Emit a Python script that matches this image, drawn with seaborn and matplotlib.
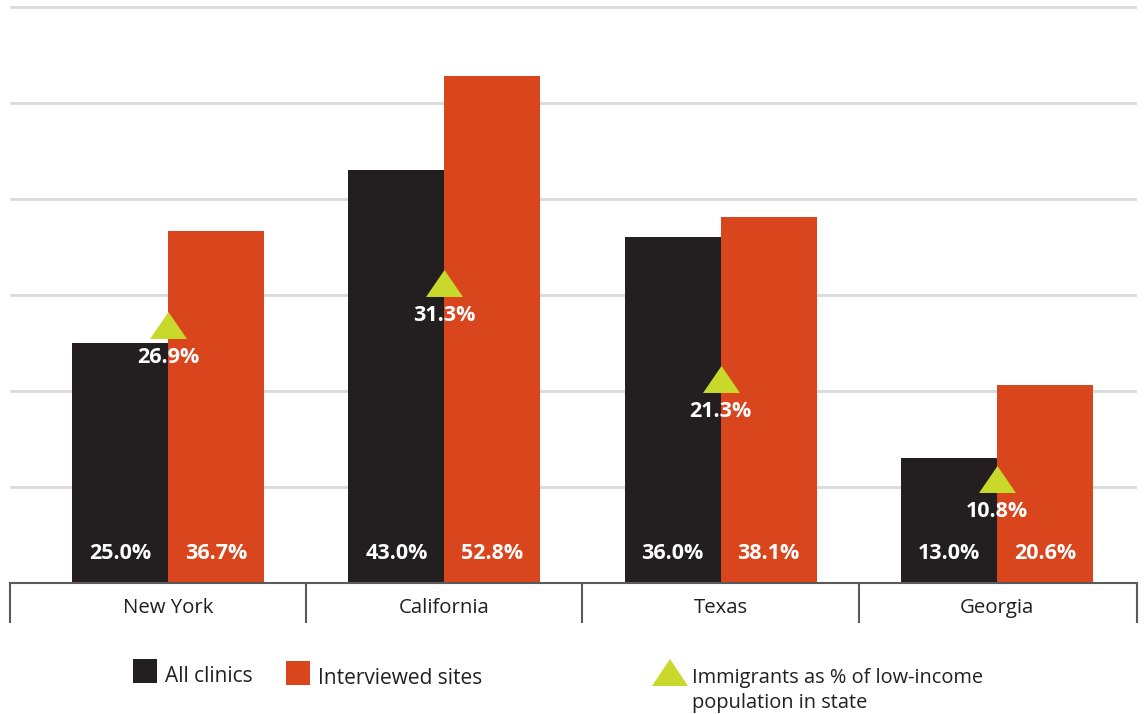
import matplotlib
matplotlib.use("Agg")
import matplotlib.pyplot as plt
import seaborn as sns
import pandas as pd
from matplotlib.transforms import blended_transform_factory
from matplotlib.patches import Rectangle, Polygon

# ---- data ----
states = ["New York", "California", "Texas", "Georgia"]
all_clinics = [25.0, 43.0, 36.0, 13.0]
interviewed = [36.7, 52.8, 38.1, 20.6]
immigrants = [26.9, 31.3, 21.3, 10.8]
series_names = ["All clinics", "Interviewed sites"]
marker_label = "Immigrants as % of low-income\npopulation in state"

DARK = "#231f20"
ORANGE = "#d9461d"
LIME = "#c9d92b"
GRID = "#d9d9d9"
AXIS = "#5a5a5a"

sns.set_theme(style="white")
plt.rcParams['font.family'] = ['Open Sans', 'DejaVu Sans']

df = pd.DataFrame({
    "State": states * 2,
    "Group": [series_names[0]] * len(states) + [series_names[1]] * len(states),
    "Value": all_clinics + interviewed,
})

W, H = 1145, 714
fig = plt.figure(figsize=(W / 100, H / 100), dpi=100)
ax = fig.add_axes([10 / W, 131 / H, 1127 / W, 583 / H])

sns.barplot(data=df, x="State", y="Value", hue="Group", order=states,
            hue_order=series_names, palette=[DARK, ORANGE], width=0.695,
            saturation=1, linewidth=0, legend=False, ax=ax, zorder=2)

ax.set_ylim(0, 60.73)
ax.set_xlim(-0.572, 3.507)
ax.set_yticks([10, 20, 30, 40, 50, 60])
ax.yaxis.grid(True, color=GRID, linewidth=2)
ax.xaxis.grid(False)
ax.set_axisbelow(True)
ax.tick_params(axis="y", length=0, labelleft=False)
ax.tick_params(axis="x", length=0, pad=11, labelsize=14.7, labelcolor=DARK)
ax.set_xlabel("")
ax.set_ylabel("")
for s in ["top", "left", "right"]:
    ax.spines[s].set_visible(False)
ax.spines["bottom"].set_color(AXIS)
ax.spines["bottom"].set_linewidth(1.5)

# separators below the axis
sep_h = -40 / 583
trans = blended_transform_factory(ax.transData, ax.transAxes)
for xs in [0.5, 1.5, 2.5]:
    ax.plot([xs, xs], [0, sep_h], transform=trans, color=AXIS, lw=1.5,
            clip_on=False, solid_capstyle="butt")
for xa in [0.0, 1.0]:
    ax.plot([xa, xa], [0, sep_h], transform=ax.transAxes, color=AXIS, lw=1.5,
            clip_on=False, solid_capstyle="butt")

# bar value labels
for cont in ax.containers:
    for bar in cont:
        v = bar.get_height()
        ax.annotate(f"{v:.1f}%", xy=(bar.get_x() + bar.get_width() / 2, 0),
                    xytext=(0, 21.5), textcoords="offset points",
                    ha="center", va="center", color="white",
                    fontsize=15.5, fontweight="bold", zorder=5)

# triangle markers
tri = [(-1, -0.73), (1, -0.73), (0, 0.73)]
sns.scatterplot(x=states, y=immigrants, marker=tri, s=26.6 ** 2,
                color=LIME, linewidth=0, ax=ax, zorder=4, legend=False)
for i, v in enumerate(immigrants):
    ax.annotate(f"{v:.1f}%", xy=(i, v), xytext=(0, -23.5),
                textcoords="offset points", ha="center", va="center",
                color="white", fontsize=15.5, fontweight="bold", zorder=5)

# legend (manual)
def fx(px):
    return px / W

def fy(py):
    return (H - py) / H

fig.add_artist(Rectangle((fx(133), fy(683)), 24 / W, 24 / H,
                         transform=fig.transFigure, color=DARK, lw=0))
fig.text(fx(165), fy(676), series_names[0], ha="left", va="center",
         fontsize=15, color=DARK)
fig.add_artist(Rectangle((fx(286), fy(685)), 24 / W, 24 / H,
                         transform=fig.transFigure, color=ORANGE, lw=0))
fig.text(fx(318), fy(678), series_names[1], ha="left", va="center",
         fontsize=15, color=DARK)
fig.add_artist(Polygon([(fx(652), fy(686)), (fx(688), fy(686)), (fx(670), fy(659))],
                       closed=True, transform=fig.transFigure, color=LIME, lw=0))
fig.text(fx(692), fy(690.5), marker_label, ha="left", va="center",
         fontsize=14.4, color=DARK, linespacing=1.3)

fig.savefig("out.png", dpi=100)
